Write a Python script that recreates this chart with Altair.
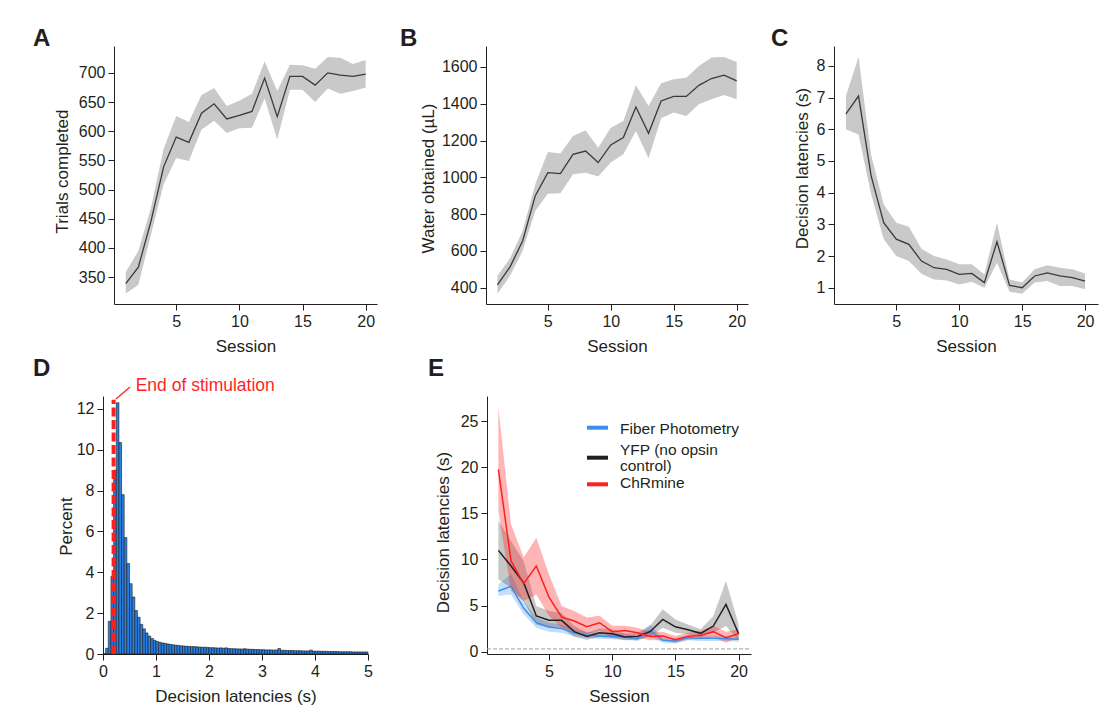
import altair as alt
import pandas as pd

SESSIONS = list(range(1, 21))

TRIALS_MEAN = [339, 367, 446, 539, 590, 581, 631, 647, 621, 627, 634, 691, 625, 694, 694, 679, 700, 696, 694, 698]
TRIALS_UPPER = [359, 395, 469, 570, 626, 616, 662, 674, 643, 652, 664, 720, 669, 714, 713, 707, 727, 726, 715, 722]
TRIALS_LOWER = [322, 337, 423, 509, 554, 549, 603, 618, 597, 605, 606, 656, 586, 671, 671, 650, 673, 664, 669, 675]

WATER_MEAN = [415, 513, 654, 899, 1025, 1020, 1125, 1143, 1080, 1176, 1216, 1382, 1239, 1415, 1440, 1440, 1500, 1537, 1555, 1524]
WATER_UPPER = [464, 560, 708, 962, 1138, 1129, 1225, 1256, 1161, 1270, 1306, 1500, 1388, 1511, 1533, 1542, 1605, 1651, 1654, 1627]
WATER_LOWER = [367, 464, 600, 817, 911, 913, 1016, 1025, 1004, 1080, 1125, 1252, 1103, 1321, 1352, 1334, 1397, 1424, 1448, 1424]

LAT_MEAN = [6.49, 7.05, 4.53, 3.05, 2.53, 2.37, 1.84, 1.63, 1.58, 1.42, 1.45, 1.16, 2.45, 1.07, 1.0, 1.37, 1.47, 1.37, 1.32, 1.21]
LAT_UPPER = [7.05, 8.28, 5.2, 3.63, 3.05, 2.92, 2.23, 2.0, 1.89, 1.74, 1.74, 1.42, 3.05, 1.26, 1.16, 1.58, 1.71, 1.63, 1.58, 1.45]
LAT_LOWER = [6.0, 5.84, 3.95, 2.53, 2.0, 1.84, 1.44, 1.26, 1.23, 1.1, 1.19, 1.0, 1.79, 0.87, 0.81, 1.16, 1.21, 1.05, 1.05, 0.95]

BIN_WIDTH = 0.05
HIST_PERCENT = [
    0.02, 0.28, 1.6, 3.8, 9.0, 12.3, 10.35, 7.8, 5.7, 4.43,
    3.44, 2.79, 2.13, 1.8, 1.45, 1.23, 1.03, 0.88, 0.76, 0.67,
    0.61, 0.57, 0.54, 0.52, 0.49, 0.47, 0.45, 0.43, 0.42, 0.40,
    0.39, 0.38, 0.37, 0.36, 0.36, 0.35, 0.34, 0.33, 0.33, 0.32,
    0.31, 0.31, 0.30, 0.29, 0.30, 0.28, 0.30, 0.27, 0.26, 0.26,
    0.25, 0.25, 0.24, 0.26, 0.24, 0.23, 0.23, 0.22, 0.22, 0.21,
    0.21, 0.20, 0.20, 0.20, 0.19, 0.20, 0.27, 0.18, 0.18, 0.17,
    0.17, 0.17, 0.16, 0.16, 0.16, 0.15, 0.15, 0.15, 0.19, 0.14,
    0.14, 0.14, 0.13, 0.13, 0.13, 0.12, 0.12, 0.12, 0.12, 0.11,
    0.11, 0.11, 0.11, 0.11, 0.10, 0.10, 0.10, 0.10, 0.10, 0.10,
]
STIM_END = 0.2

RED_MEAN = [19.76, 9.83, 7.37, 9.28, 5.92, 3.76, 3.32, 2.7, 3.14, 2.17, 2.3, 2.05, 1.66, 1.7, 1.3, 1.66, 1.77, 2.17, 1.52, 1.95]
RED_UPPER = [26.5, 13.8, 10.2, 12.35, 8.4, 4.95, 4.4, 3.7, 3.9, 2.8, 2.8, 2.6, 2.17, 2.17, 1.7, 2.05, 2.24, 2.8, 2.17, 2.42]
RED_LOWER = [15.2, 6.6, 5.5, 6.2, 3.9, 2.6, 2.24, 1.9, 2.24, 1.5, 1.8, 1.5, 1.23, 1.23, 0.98, 1.3, 1.34, 1.6, 0.98, 1.5]

BLACK_MEAN = [10.98, 9.28, 7.48, 3.87, 3.4, 3.4, 2.17, 1.66, 2.06, 1.95, 1.6, 1.66, 2.17, 3.5, 2.7, 2.38, 1.99, 2.78, 5.13, 1.95]
BLACK_UPPER = [14.2, 12.0, 9.8, 4.95, 4.4, 4.2, 2.8, 2.05, 2.5, 2.42, 1.95, 2.05, 2.8, 4.6, 3.5, 2.96, 2.42, 3.87, 7.66, 2.96]
BLACK_LOWER = [7.84, 6.94, 5.5, 2.96, 2.6, 2.6, 1.6, 1.3, 1.6, 1.5, 1.23, 1.3, 1.66, 2.6, 2.06, 1.88, 1.6, 2.06, 2.78, 1.16]

BLUE_MEAN = [6.58, 7.08, 4.7, 3.14, 2.67, 2.5, 2.06, 1.8, 1.7, 1.66, 1.6, 1.41, 2.3, 1.23, 1.16, 1.52, 1.45, 1.45, 1.41, 1.34]
BLUE_UPPER = [7.3, 8.4, 5.5, 3.7, 3.14, 2.96, 2.42, 2.17, 2.05, 1.99, 1.95, 1.7, 2.96, 1.52, 1.45, 1.8, 1.77, 1.77, 1.7, 1.63]
BLUE_LOWER = [6.03, 6.2, 4.05, 2.6, 2.17, 2.06, 1.7, 1.52, 1.41, 1.34, 1.3, 1.16, 1.7, 0.98, 0.9, 1.23, 1.16, 1.16, 1.16, 1.08]

LEGEND_LABELS = ["Fiber Photometry", "YFP (no opsin", "control)", "ChRmine"]
DASH_LEVEL = 0.3

FONT = "Liberation Sans"
INK = "#231f20"
RED = "#ff1f1f"
BLUE = "#3b8fea"
H = 258
DUMMY = pd.DataFrame({"v": [0]})


def session_df(mean, upper, lower):
    return pd.DataFrame({"session": SESSIONS, "mean": mean, "upper": upper, "lower": lower})


def xaxis(values, title, width):
    return alt.Axis(values=values, title=title, grid=False, tickSize=6, labelPadding=3,
                    labelFlush=False, labelOverlap=False, titleX=width / 2, titleY=47,
                    titleBaseline="alphabetic", titleAlign="center")


def yaxis(values, title, tx, ty):
    return alt.Axis(values=values, title=title, grid=False, tickSize=6, labelPadding=3,
                    labelOverlap=False, titleX=tx, titleY=ty, titleBaseline="alphabetic",
                    titleAlign="center", titleAngle=270, format="d")


def letter(txt, dx, dy):
    return alt.Chart(DUMMY).mark_text(font=FONT, fontSize=24, fontWeight="bold", color=INK,
                                      align="left", baseline="alphabetic").encode(
        x=alt.value(dx), y=alt.value(dy), text=alt.value(txt))


def text_at(txt, dx, dy, size, color):
    return alt.Chart(DUMMY).mark_text(font=FONT, fontSize=size, color=color,
                                      align="left", baseline="alphabetic").encode(
        x=alt.value(dx), y=alt.value(dy), text=alt.value(txt))


def anchor(dx, dy):
    # invisible layout anchor (keeps panel offsets inside the concat grid)
    return alt.Chart(DUMMY).mark_text(fontSize=2, opacity=0, align="left",
                                      baseline="alphabetic").encode(
        x=alt.value(dx), y=alt.value(dy), text=alt.value("."))


def spacer(w):
    return alt.layer(anchor(0, 5)).properties(width=w, height=10)


def session_panel(mean, upper, lower, xdom, ydom, yvals, ytitle, tx, ty, width, let, ldx):
    df = session_df(mean, upper, lower)
    x = alt.X("session:Q", scale=alt.Scale(domain=xdom, nice=False, zero=False),
              axis=xaxis([5, 10, 15, 20], "Session", width))
    ys = alt.Scale(domain=ydom, nice=False, zero=False)
    ax = yaxis(yvals, ytitle, tx, ty)
    band = alt.Chart(df).mark_area(color="#c9c9c9", opacity=1).encode(
        x=x, y=alt.Y("lower:Q", scale=ys, axis=ax), y2="upper:Q")
    line = alt.Chart(df).mark_line(color="#3a3a3a", strokeWidth=1.3).encode(
        x=x, y=alt.Y("mean:Q", scale=ys, axis=ax))
    return alt.layer(band, line, letter(let, ldx, 0)).properties(width=width, height=H)


pa = session_panel(TRIALS_MEAN, TRIALS_UPPER, TRIALS_LOWER, [0.07, 20.9], [304, 746],
                   list(range(350, 701, 50)), "Trials completed", -47, 125, 263, "A", -81)
pb = session_panel(WATER_MEAN, WATER_UPPER, WATER_LOWER, [0.09, 20.9], [311, 1714],
                   list(range(400, 1601, 200)), "Water obtained (µL)", -53, 132, 262, "B", -86)
pc = session_panel(LAT_MEAN, LAT_UPPER, LAT_LOWER, [0.05, 21.03], [0.485, 8.63],
                   list(range(1, 9)), "Decision latencies (s)", -27, 122, 264, "C", -63)

# Panel D: histogram
hist_df = pd.DataFrame({
    "start": [i * BIN_WIDTH for i in range(len(HIST_PERCENT))],
    "end": [(i + 1) * BIN_WIDTH for i in range(len(HIST_PERCENT))],
    "pct": HIST_PERCENT,
})
dx = alt.X("start:Q", scale=alt.Scale(domain=[0, 5], nice=False, zero=False),
           axis=xaxis([0, 1, 2, 3, 4, 5], "Decision latencies (s)", 265))
dys = alt.Scale(domain=[0, 12.63], nice=False)
dax = yaxis(list(range(0, 13, 2)), "Percent", -32, 130)
bars = alt.Chart(hist_df).mark_rect(color="#2980e4", stroke="#1a1a1a", strokeWidth=0.6).encode(
    x=dx, x2="end:Q", y=alt.Y("pct:Q", scale=dys, axis=dax), y2=alt.datum(0))
stim = alt.Chart(DUMMY).mark_rule(color=RED, strokeWidth=4, strokeDash=[9, 3.5]).encode(
    x=alt.datum(STIM_END), y=alt.datum(0), y2=alt.datum(12.45))
leader = alt.Chart(DUMMY).mark_rule(color=RED, strokeWidth=1.2).encode(
    x=alt.value(13), y=alt.value(3), x2=alt.value(27), y2=alt.value(-9))
pd_ = alt.layer(bars, stim, leader,
                text_at("End of stimulation", 32.7, -5, 17.5, RED),
                letter("D", -70, -20)).properties(width=265, height=H)

# Panel E
ex = alt.X("session:Q", scale=alt.Scale(domain=[0.1, 20.98], nice=False, zero=False),
           axis=xaxis([5, 10, 15, 20], "Session", 264))
eys = alt.Scale(domain=[-0.25, 27.71], nice=False, zero=False)
eax = yaxis([0, 5, 10, 15, 20, 25], "Decision latencies (s)", -39, 136)


def e_layers(mean, upper, lower, color, op):
    df = session_df(mean, upper, lower)
    band = alt.Chart(df).mark_area(color=color, opacity=op).encode(
        x=ex, y=alt.Y("lower:Q", scale=eys, axis=eax), y2="upper:Q")
    line = alt.Chart(df).mark_line(color=color, strokeWidth=1.5).encode(
        x=ex, y=alt.Y("mean:Q", scale=eys, axis=eax))
    return band, line


b_band, b_line = e_layers(BLUE_MEAN, BLUE_UPPER, BLUE_LOWER, BLUE, 0.3)
k_band, k_line = e_layers(BLACK_MEAN, BLACK_UPPER, BLACK_LOWER, INK, 0.25)
r_band, r_line = e_layers(RED_MEAN, RED_UPPER, RED_LOWER, RED, 0.33)

dash = alt.Chart(DUMMY).mark_rule(color="#a0a0a0", strokeWidth=1, strokeDash=[4, 2]).encode(
    y=alt.datum(DASH_LEVEL), x=alt.value(0), x2=alt.value(264))


def swatch(color, yv):
    return alt.Chart(DUMMY).mark_rule(color=color, strokeWidth=4).encode(
        x=alt.value(100), x2=alt.value(121), y=alt.value(yv))


pe = alt.layer(
    b_band, k_band, r_band, b_line, k_line, r_line, dash,
    swatch(BLUE, 31.7), swatch(INK, 61.7), swatch(RED, 88.3),
    text_at(LEGEND_LABELS[0], 133, 38, 15.5, INK),
    text_at(LEGEND_LABELS[1], 133, 59, 15.5, INK),
    text_at(LEGEND_LABELS[2], 133, 75, 15.5, INK),
    text_at(LEGEND_LABELS[3], 133, 92, 15.5, INK),
    letter("E", -59, -20),
    anchor(-92, 130),
).properties(width=264, height=H)

row1 = alt.hconcat(spacer(1), pa, pb, pc, spacing=21)
row2 = alt.hconcat(spacer(1), pd_, pe, spacing=21)

chart = alt.vconcat(row1, row2, spacing=1).properties(
    padding={"left": 0, "top": 18, "right": 0, "bottom": 0},
    background="white",
).configure_view(stroke="transparent").configure_axis(
    domainColor=INK, tickColor=INK, labelColor=INK, titleColor=INK,
    labelFont=FONT, titleFont=FONT, labelFontSize=16, titleFontSize=17,
    titleFontWeight="normal", domainWidth=1, tickWidth=1,
)

chart.save("out.html", embed_options={"renderer": "svg", "actions": False})
